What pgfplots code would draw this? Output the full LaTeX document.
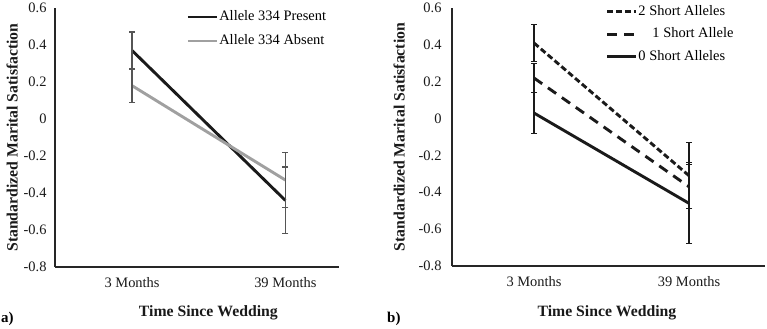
\documentclass[border=0pt]{standalone}
\usepackage{pgfplots}
\pgfplotsset{compat=1.18}
\usepackage{fontspec}
\setmainfont{Liberation Serif}
\definecolor{dk}{HTML}{1A1A1A}
\definecolor{lg}{HTML}{A0A0A0}
\definecolor{eg}{HTML}{555555}
\begin{document}
\begin{tikzpicture}
\path[use as bounding box] (0bp,0bp) rectangle (767bp,-329bp);
\pgfplotsset{
  myax/.style={
    scale only axis,
    axis lines=left,
    axis line style={-, color=black!85, line width=1.2bp},
    major tick length=0bp,
    ymin=-0.8, ymax=0.6,
    ytick={-0.8,-0.6,-0.4,-0.2,0,0.2,0.4,0.6},
    yticklabels={-0.8,-0.6,-0.4,-0.2,0,0.2,0.4,0.6},
    xtick={1,2},
    xticklabels={3 Months,39 Months},
    tick label style={font=\fontsize{14.5}{16}\selectfont, color=black!90},
    xticklabel style={yshift=-7bp},
    label style={font=\bfseries\fontsize{15.8}{18}\selectfont, color=black!90},
    ylabel={Standardized Marital Satisfaction},
    xlabel={Time Since Wedding},
    legend cell align=left,
    legend style={draw=none, fill=none, inner sep=0pt, anchor=north west,
      font=\fontsize{14.5}{16}\selectfont,
      nodes={text height=10bp, text depth=3bp, inner xsep=1bp, inner ysep=1bp}},
    legend image code/.code={\draw[##1] (0bp,0bp) -- (29bp,0bp);},
  }
}
% Panel a
\begin{axis}[myax,
  at={(55bp,-267bp)}, anchor=south west,
  width=284bp, height=259bp,
  xmin=0.497, xmax=2.35,
  yticklabel style={xshift=-5bp},
  ylabel style={at={(axis description cs:-0.151,0.5)}, anchor=center},
  xlabel style={at={(axis description cs:0.54,0)}, anchor=center, yshift=-46bp},
  legend style={at={(axis description cs:0.462,0.995)}, row sep=9bp},
]
\addplot[dk, line width=2.9bp, error bars/.cd, y dir=both, y explicit,
  error bar style={color=eg, line width=1.3bp, solid},
  error mark options={rotate=90, color=eg, line width=1.3bp, mark size=3bp, solid}]
  coordinates {(1,0.37) +- (0,0.10) (2,-0.44) +- (0,0.18)};
\addlegendentry{Allele 334 Present}
\addplot[lg, line width=2.9bp, error bars/.cd, y dir=both, y explicit,
  error bar style={color=eg, line width=1.3bp, solid},
  error mark options={rotate=90, color=eg, line width=1.3bp, mark size=3bp, solid}]
  coordinates {(1,0.18) +- (0,0.09) (2,-0.33) +- (0,0.15)};
\addlegendentry{Allele 334 Absent}
\end{axis}
% Panel b
\begin{axis}[myax,
  at={(452bp,-266bp)}, anchor=south west,
  width=313bp, height=258bp,
  xmin=0.471, xmax=2.49,
  yticklabel style={xshift=-7bp},
  ylabel style={at={(axis description cs:-0.169,0.5)}, anchor=center},
  xlabel style={at={(axis description cs:0.495,0)}, anchor=center, yshift=-47bp},
  legend style={at={(axis description cs:0.49,1.015)}, row sep=7.5bp},
]
\addplot[dk, line width=2.9bp, dash pattern=on 6bp off 3bp, error bars/.cd, y dir=both, y explicit,
  error bar style={color=dk, line width=1.2bp, solid},
  error mark options={rotate=90, color=dk, line width=1.2bp, mark size=3bp, solid}]
  coordinates {(1,0.41) +- (0,0.10) (2,-0.31) +- (0,0.18)};
\addlegendentry{2 Short Alleles}
\addplot[dk, line width=2.9bp, dash pattern=on 10bp off 7bp, error bars/.cd, y dir=both, y explicit,
  error bar style={color=dk, line width=1.2bp, solid},
  error mark options={rotate=90, color=dk, line width=1.2bp, mark size=3bp, solid}]
  coordinates {(1,0.22) +- (0,0.08) (2,-0.37) +- (0,0.12)};
\addlegendentry{\hspace*{14bp}1 Short Allele}
\addplot[dk, line width=2.9bp, error bars/.cd, y dir=both, y explicit,
  error bar style={color=dk, line width=1.2bp, solid},
  error mark options={rotate=90, color=dk, line width=1.2bp, mark size=3bp, solid}]
  coordinates {(1,0.03) +- (0,0.11) (2,-0.46) +- (0,0.22)};
\addlegendentry{0 Short Alleles}
\end{axis}
\node[anchor=base west, inner sep=0pt, font=\bfseries\fontsize{15}{17}\selectfont] at (1bp,-322bp) {a)};
\node[anchor=base west, inner sep=0pt, font=\bfseries\fontsize{15}{17}\selectfont] at (387bp,-322bp) {b)};
\end{tikzpicture}
\end{document}
